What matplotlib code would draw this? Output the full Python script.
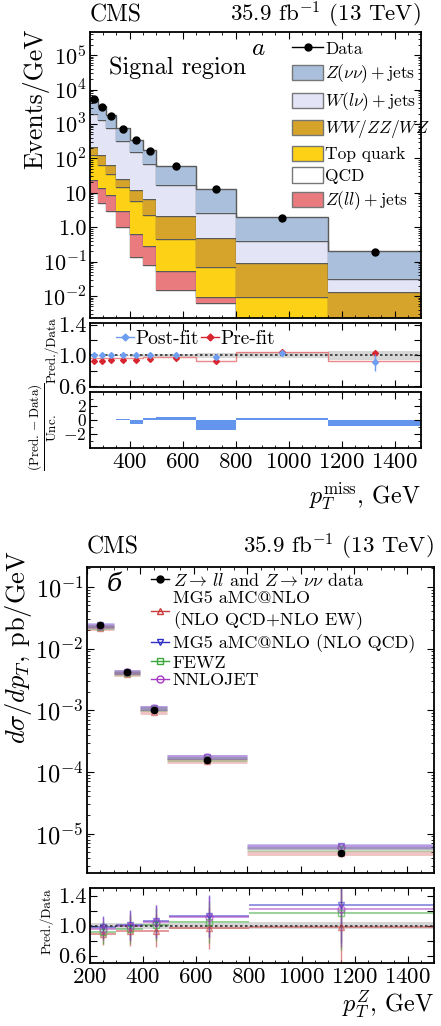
import numpy as np
import matplotlib
matplotlib.use("Agg")
import matplotlib.pyplot as plt
from matplotlib.patches import Patch
from matplotlib.lines import Line2D
from matplotlib.ticker import FixedLocator, FixedFormatter, MultipleLocator, LogLocator, NullFormatter

plt.rcParams['font.family'] = ['cmr10', 'DejaVu Serif']
plt.rcParams['mathtext.fontset'] = 'cm'
plt.rcParams['axes.formatter.use_mathtext'] = True
plt.rcParams['axes.unicode_minus'] = False

# ---------------- data: signal region (top figure) ----------------
met_edges = [250, 280, 310, 350, 400, 450, 500, 650, 800, 1150, 1500]
qcd = [10.0, 5.0, 2.95, 1.0, 0.135, 0.078, 0.0151, 0.0063, 0.0010, 0.0003]
zll = [14.0, 9.1, 5.56, 1.88, 0.51, 0.204, 0.040, 0.0032, 0.0006, 0.0003]
top = [99.0, 52.0, 27.8, 11.9, 5.1, 1.96, 0.413, 0.060, 0.0078, 0.0006]
vv = [91.0, 57.0, 26.8, 10.9, 5.95, 4.52, 1.62, 0.41, 0.084, 0.0119]
wln = [1690, 1195, 678, 298, 146, 64.0, 14.5, 2.15, 0.305, 0.0184]
znn = [3340, 1990, 1040, 417, 189, 103, 45.1, 9.97, 1.60, 0.168]
data_sr = [5140, 3150, 1650, 722, 338, 169, 60.7, 12.7, 1.91, 0.196]

postfit = [1.0, 1.0, 1.0, 1.0, 1.0, 1.0, 1.0, 0.98, 1.03, 0.91]
postfit_err = [0.01, 0.01, 0.01, 0.01, 0.01, 0.015, 0.02, 0.03, 0.04, 0.11]
prefit = [0.93, 0.93, 0.935, 0.945, 0.935, 0.95, 0.96, 0.93, 1.04, 1.03]
prefit_line = [0.96, 0.96, 0.965, 0.97, 0.97, 0.975, 0.98, 0.93, 1.05, 0.93]
ratio_unc = [0.01, 0.01, 0.01, 0.01, 0.015, 0.015, 0.02, 0.03, 0.04, 0.06]
pull = [0.02, 0.02, 0.05, 0.2, -0.6, 0.3, 0.45, -1.4, 0.3, -0.9]

# ---------------- data: Z pT cross section (bottom figure) ----------------
zpt_edges = [200, 300, 400, 500, 800, 1500]
xsec = [2.45e-2, 4.2e-3, 1.02e-3, 1.55e-4, 4.9e-6]
r_ewk = [0.89, 0.93, 0.93, 0.97, 0.98]
r_qcd = [0.98, 1.01, 1.06, 1.13, 1.27]
r_fewz = [0.91, 0.95, 1.01, 1.05, 1.17]
r_nnlo = [0.96, 1.00, 1.05, 1.12, 1.22]
r_err = [0.15, 0.2, 0.22, 0.28, 0.5]
data_band = [0.04, 0.04, 0.04, 0.04, 0.05]

W, H = 441, 1026
fig = plt.figure(figsize=(W / 100, H / 100), dpi=100)


def box(l, t, r, b):
    return [l / W, 1 - b / H, (r - l) / W, (b - t) / H]


def pt(x, y):
    return x / W, 1 - y / H


def style(ax, size=16):
    ax.tick_params(which='both', direction='in', top=True, right=True, labelsize=size)
    ax.tick_params(which='major', length=5, width=0.8)
    ax.tick_params(which='minor', length=2.5, width=0.6)
    ax.tick_params(axis='y', pad=2.5)
    for s in ax.spines.values():
        s.set_linewidth(1.3)


# ======== top figure ========
ax1 = fig.add_axes(box(90, 32, 421, 318))
ax2 = fig.add_axes(box(90, 323, 421, 387))
ax3 = fig.add_axes(box(90, 392, 421, 448))

edges = np.array(met_edges, float)
centers = 0.5 * (edges[1:] + edges[:-1])
comps = [
    (qcd, 'white', 'QCD'),
    (zll, '#e97b7f', r'$Z(ll)+$jets'),
    (top, '#fcd116', 'Top quark'),
    (vv, '#d6a42a', r'$WW/ZZ/WZ$'),
    (wln, '#e3e5f7', r'$W(l\nu)+$jets'),
    (znn, '#aabfdb', r'$Z(\nu\nu)+$jets'),
]
base = np.full(len(centers), 1e-6)
for vals, col, lab in comps:
    topv = base + np.array(vals)
    ax1.stairs(topv, edges, baseline=base, fill=True, facecolor=col, edgecolor='none')
    ax1.stairs(topv, edges, baseline=None, color='#5a5a5a', lw=1.0)
    base = topv
ax1.plot(centers, data_sr, 'o', color='k', ms=5, zorder=5)
ax1.set_yscale('log')
ax1.set_ylim(2.3e-3, 4.7e5)
yt = [1e-2, 1e-1, 1, 10, 1e2, 1e3, 1e4, 1e5]
ax1.yaxis.set_major_locator(FixedLocator(yt))
ax1.yaxis.set_major_formatter(FixedFormatter([r'$10^{-2}$', r'$10^{-1}$', '1.0', '10',
                                               r'$10^{2}$', r'$10^{3}$', r'$10^{4}$', r'$10^{5}$']))
ax1.yaxis.set_minor_locator(LogLocator(base=10, subs=np.arange(2, 10), numticks=20))
ax1.yaxis.set_minor_formatter(NullFormatter())
for a in (ax1, ax2, ax3):
    a.set_xlim(250, 1500)
    a.xaxis.set_major_locator(MultipleLocator(200))
    a.xaxis.set_minor_locator(MultipleLocator(50))
    style(a)
ax3.tick_params(axis='x', labelsize=16.5)
ax3.tick_params(axis='y', labelsize=12.5)
ax1.tick_params(labelbottom=False)
ax2.tick_params(labelbottom=False)

handles = [Line2D([], [], color='k', marker='o', ms=5, lw=1, label='Data')]
for vals, col, lab in reversed(comps):
    handles.append(Patch(facecolor=col, edgecolor='#777777', lw=1, label=lab))
# legend order as in reference: Z(nn), W, VV, top, QCD, Z(ll)
order = [0, 1, 2, 3, 4, 6, 5]
handles = [handles[i] for i in order]
ax1.legend(handles=handles, loc='upper left', bbox_to_anchor=((292 - 90) / 331, 0.97),
           frameon=False, fontsize=12.5, borderpad=0, borderaxespad=0, handlelength=1.8,
           handleheight=1.0, handletextpad=0.1, labelspacing=0.3)

fig.text(*pt(109, 74), 'Signal region', fontsize=17.5, ha='left', va='baseline')
fig.text(*pt(251, 55), r'$a$', fontsize=18, ha='left', va='baseline')

# ratio panel
ax2.fill_between(edges, np.r_[1 - np.array(ratio_unc), 1 - ratio_unc[-1]],
                 np.r_[1 + np.array(ratio_unc), 1 + ratio_unc[-1]], step='post',
                 color='#bbbbbb', alpha=0.6, lw=0)
ax2.axhline(1.0, color='#333333', ls=(0, (1.5, 1.5)), lw=1.2)
ax2.stairs(prefit_line, edges, baseline=None, color='#e66a6a', lw=1.0, alpha=0.8)
ax2.errorbar(centers, postfit, yerr=postfit_err, fmt='D', ms=3, color='#6f9ef0', lw=1, zorder=4)
ax2.errorbar(centers, prefit, fmt='D', ms=3, color='#d9252f', lw=1, zorder=3)
ax2.set_ylim(0.59, 1.42)
ax2.yaxis.set_major_locator(FixedLocator([0.6, 0.8, 1.0, 1.2, 1.4]))
ax2.yaxis.set_major_formatter(FixedFormatter(['0.6', '', '1.0', '', '1.4']))
h_post = Line2D([], [], color='#6f9ef0', marker='D', ms=3.5, lw=1, label='Post-fit')
h_pre = Line2D([], [], color='#d9252f', marker='D', ms=3.5, lw=1, label='Pre-fit')
ax2.legend(handles=[h_post, h_pre], loc='upper left', ncol=2, frameon=False, fontsize=14,
           bbox_to_anchor=(0.05, 1.04), borderpad=0, handlelength=0.9, handletextpad=0.1,
           columnspacing=0.1)

ax3.stairs(pull, edges, baseline=0, fill=True, color='#6495ed', lw=0)
ax3.set_ylim(-4, 4)
ax3.yaxis.set_major_locator(FixedLocator([-2, 0, 2]))
ax3.yaxis.set_minor_locator(FixedLocator([-3, -1, 1, 3]))

fig.text(*pt(36, 99), 'Events/GeV', rotation=90, fontsize=18.5, ha='center', va='center')
fig.text(*pt(52, 350), 'Pred./Data', rotation=90, fontsize=9.5, ha='center', va='center')
fig.text(*pt(43, 427), r'$\dfrac{\rm (Pred.-Data)}{\rm Unc.}$', rotation=90, fontsize=9.5,
         ha='center', va='center')
fig.text(*pt(421, 504), r'$p_T^{\rm miss}$, GeV', fontsize=17.3, ha='right', va='baseline')
fig.text(*pt(90, 22), 'CMS', fontsize=17, ha='left', va='baseline')
fig.text(*pt(421, 22), r'35.9 fb$^{-1}$ (13 TeV)', fontsize=16.5, ha='right', va='baseline')

# ======== bottom figure ========
bx1 = fig.add_axes(box(87, 567, 434, 873))
bx2 = fig.add_axes(box(90, 888, 434, 963))
ze = np.array(zpt_edges, float)
zc = 0.5 * (ze[1:] + ze[:-1])
xs = np.array(xsec)
theories = [
    (r_ewk, '#cc3b3b', '^', 'MG5 aMC@NLO\n(NLO QCD$+$NLO EW)'),
    (r_qcd, '#3030c8', 'v', 'MG5 aMC@NLO (NLO QCD)'),
    (r_fewz, '#3aa83a', 's', 'FEWZ'),
    (r_nnlo, '#a63ac4', 'o', 'NNLOJET'),
]
for rr, col, mk, lab in theories:
    pred = xs * np.array(rr)
    for i in range(len(zc)):
        bx1.hlines(pred[i], ze[i], ze[i + 1], color=col, lw=3.5, alpha=0.3)
        bx2.hlines(rr[i], ze[i], ze[i + 1], color=col, lw=1.2, alpha=0.6)
    bx1.plot(zc, pred, ls='none', marker=mk, mfc='none', mec=col, ms=5, alpha=0.6)
    bx2.errorbar(zc, rr, yerr=r_err, fmt=mk, mfc='none', mec=col, color=col, ms=5, lw=1, alpha=0.6)
bx1.errorbar(zc, xs, yerr=xs * 0.05, fmt='o', color='k', ms=4.5, lw=1, zorder=6)
bx1.set_yscale('log')
bx1.set_ylim(2.3e-6, 0.21)
bx1.yaxis.set_major_locator(LogLocator(base=10, numticks=12))
bx1.yaxis.set_minor_locator(LogLocator(base=10, subs=np.arange(2, 10), numticks=20))
bx1.yaxis.set_minor_formatter(NullFormatter())

band_lo = np.r_[1 - np.array(data_band), 1 - data_band[-1]]
band_hi = np.r_[1 + np.array(data_band), 1 + data_band[-1]]
bx2.fill_between(ze, band_lo, band_hi, step='post', color='#bbbbbb', alpha=0.6, lw=0)
bx2.axhline(1.0, color='#333333', ls=(0, (1.5, 1.5)), lw=1.2)
bx2.set_ylim(0.5, 1.5)
bx2.yaxis.set_major_locator(FixedLocator([0.6, 0.8, 1.0, 1.2, 1.4]))
bx2.yaxis.set_major_formatter(FixedFormatter(['0.6', '', '1.0', '', '1.4']))
for a in (bx1, bx2):
    a.set_xlim(200, 1500)
    a.xaxis.set_major_locator(MultipleLocator(200))
    a.xaxis.set_minor_locator(MultipleLocator(50))
    style(a)
bx1.tick_params(labelbottom=False, labelsize=17.5)
bx2.tick_params(axis='x', labelsize=16.5)

bh = [Line2D([], [], color='k', marker='o', ms=5, lw=1, label=r'$Z\rightarrow\,ll$ and $Z\rightarrow\,\nu\nu$ data')]
for rr, col, mk, lab in theories:
    bh.append(Line2D([], [], color=col, marker=mk, mfc='none', mec=col, ms=5, lw=1, label=lab))
bx1.legend(handles=bh, loc='upper left', bbox_to_anchor=((151 - 87) / 347, 0.985), frameon=False,
           fontsize=13, borderpad=0, borderaxespad=0, handlelength=1.0, handletextpad=0.2,
           labelspacing=0.12)

fig.text(*pt(107, 591), 'б', fontsize=18, style='italic', family='DejaVu Serif', ha='left', va='baseline')
fig.text(*pt(19, 647), r'$d\sigma/dp_T$, pb/GeV', rotation=90, fontsize=19, ha='center', va='center')
fig.text(*pt(47, 921), 'Pred./Data', rotation=90, fontsize=9.5, ha='center', va='center')
fig.text(*pt(434, 1012), r'$p_T^Z$, GeV', fontsize=17.5, ha='right', va='baseline')
fig.text(*pt(87, 553), 'CMS', fontsize=17, ha='left', va='baseline')
fig.text(*pt(434, 553), r'35.9 fb$^{-1}$ (13 TeV)', fontsize=16.5, ha='right', va='baseline')

fig.savefig('out.png', dpi=100)
